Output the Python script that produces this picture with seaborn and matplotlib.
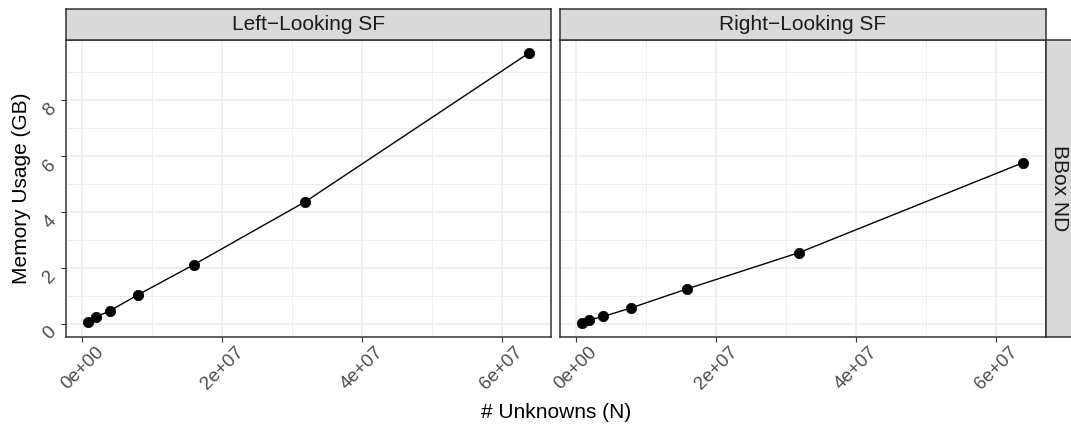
import matplotlib
matplotlib.use("Agg")
import matplotlib.pyplot as plt
import seaborn as sns
import pandas as pd
import numpy as np
from matplotlib.ticker import FixedLocator

# ---- data ----
panels = ["Left\u2212Looking SF", "Right\u2212Looking SF"]
row_label = "BBox ND"
unknowns = [0.8e6, 1.9e6, 3.9e6, 7.9e6, 15.9e6, 31.9e6, 63.9e6]
mem_left = [0.06, 0.24, 0.46, 1.03, 2.11, 4.37, 9.69]
mem_right = [0.01, 0.14, 0.26, 0.57, 1.25, 2.55, 5.77]
x_ticks = [0, 2e7, 4e7, 6e7]
x_tick_labels = ["0e+00", "2e+07", "4e+07", "6e+07"]
y_ticks = [0, 2, 4, 6, 8]
y_tick_labels = ["0", "2", "4", "6", "8"]

df = pd.DataFrame({
    "N": unknowns * 2,
    "mem": mem_left + mem_right,
    "method": [panels[0]] * len(unknowns) + [panels[1]] * len(unknowns),
})

sns.set_theme(style="white")
plt.rcParams["font.family"] = ["Liberation Sans", "DejaVu Sans"]

W, H = 1071, 425
fig = plt.figure(figsize=(W / 100, H / 100), dpi=100)

def fx(px):
    return px / W

def fy(py):
    return 1 - py / H

top, bottom = 39.5, 337
strip_top = 8.5
lefts = [(66, 551), (559.5, 1045.5)]

border = "#333333"
grid_major = "#EBEBEB"
strip_fill = "#D9D9D9"
tick_col = "#4D4D4D"

xmin, xmax = min(unknowns), max(unknowns)
xpad = 0.05 * (xmax - xmin)
allm = mem_left + mem_right
ymin, ymax = min(allm), max(allm)
ypad = 0.05 * (ymax - ymin)

for i, (l, r) in enumerate(lefts):
    ax = fig.add_axes([fx(l), fy(bottom), fx(r - l), (bottom - top) / H])
    sub = df[df["method"] == panels[i]]
    sns.lineplot(data=sub, x="N", y="mem", color="black", linewidth=1.0, ax=ax, zorder=3)
    sns.scatterplot(data=sub, x="N", y="mem", color="black", edgecolor="black",
                    s=56, linewidth=0.5, ax=ax, zorder=4)
    ax.set_xlim(xmin - xpad, xmax + xpad)
    ax.set_ylim(ymin - ypad, ymax + ypad)
    ax.xaxis.set_major_locator(FixedLocator(x_ticks))
    ax.xaxis.set_minor_locator(FixedLocator([1e7, 3e7, 5e7]))
    ax.yaxis.set_major_locator(FixedLocator(y_ticks))
    ax.yaxis.set_minor_locator(FixedLocator([1, 3, 5, 7, 9]))
    ax.grid(True, which="major", color=grid_major, linewidth=1.2, zorder=0)
    ax.grid(True, which="minor", color=grid_major, linewidth=0.6, zorder=0)
    ax.set_axisbelow(True)
    ax.set_xticklabels(x_tick_labels, rotation=45, ha="center", va="top",
                       fontsize=13.5, color=tick_col)
    ax.tick_params(axis="both", which="major", length=3.5, width=0.8, color=border,
                   direction="out", pad=1, bottom=True, left=(i == 0))
    ax.tick_params(axis="both", which="minor", length=0)
    if i == 0:
        ax.set_yticklabels(y_tick_labels, rotation=45, ha="right", va="top",
                           fontsize=13.5, color=tick_col)
    else:
        ax.set_yticklabels([])
    for s in ax.spines.values():
        s.set_color(border)
        s.set_linewidth(1.1)
        s.set_visible(True)
    ax.set_xlabel("")
    ax.set_ylabel("")

    # top strip
    sax = fig.add_axes([fx(l), fy(top), fx(r - l), (top - strip_top) / H])
    sax.set_xticks([]); sax.set_yticks([])
    sax.set_facecolor(strip_fill)
    for s in sax.spines.values():
        s.set_color(border); s.set_linewidth(1.1)
    sax.text(0.5, 0.5, panels[i], ha="center", va="center", fontsize=15,
             color="#1A1A1A", transform=sax.transAxes)

# right strip
rax = fig.add_axes([fx(1045.5), fy(bottom), fx(1073 - 1045.5), (bottom - top) / H])
rax.set_xticks([]); rax.set_yticks([])
rax.set_facecolor(strip_fill)
for s in rax.spines.values():
    s.set_color(border); s.set_linewidth(1.1)
rax.text(0.5, 0.5, row_label, ha="center", va="center", rotation=-90,
         fontsize=15, color="#1A1A1A", transform=rax.transAxes)

fig.text(fx(22), fy((top + bottom) / 2), "Memory Usage (GB)", rotation=90,
         ha="center", va="center", fontsize=15, color="black")
fig.text(fx((66 + 1045.5) / 2), fy(413), "# Unknowns (N)", ha="center",
         va="center", fontsize=15, color="black")

fig.savefig("out.png", dpi=100)
